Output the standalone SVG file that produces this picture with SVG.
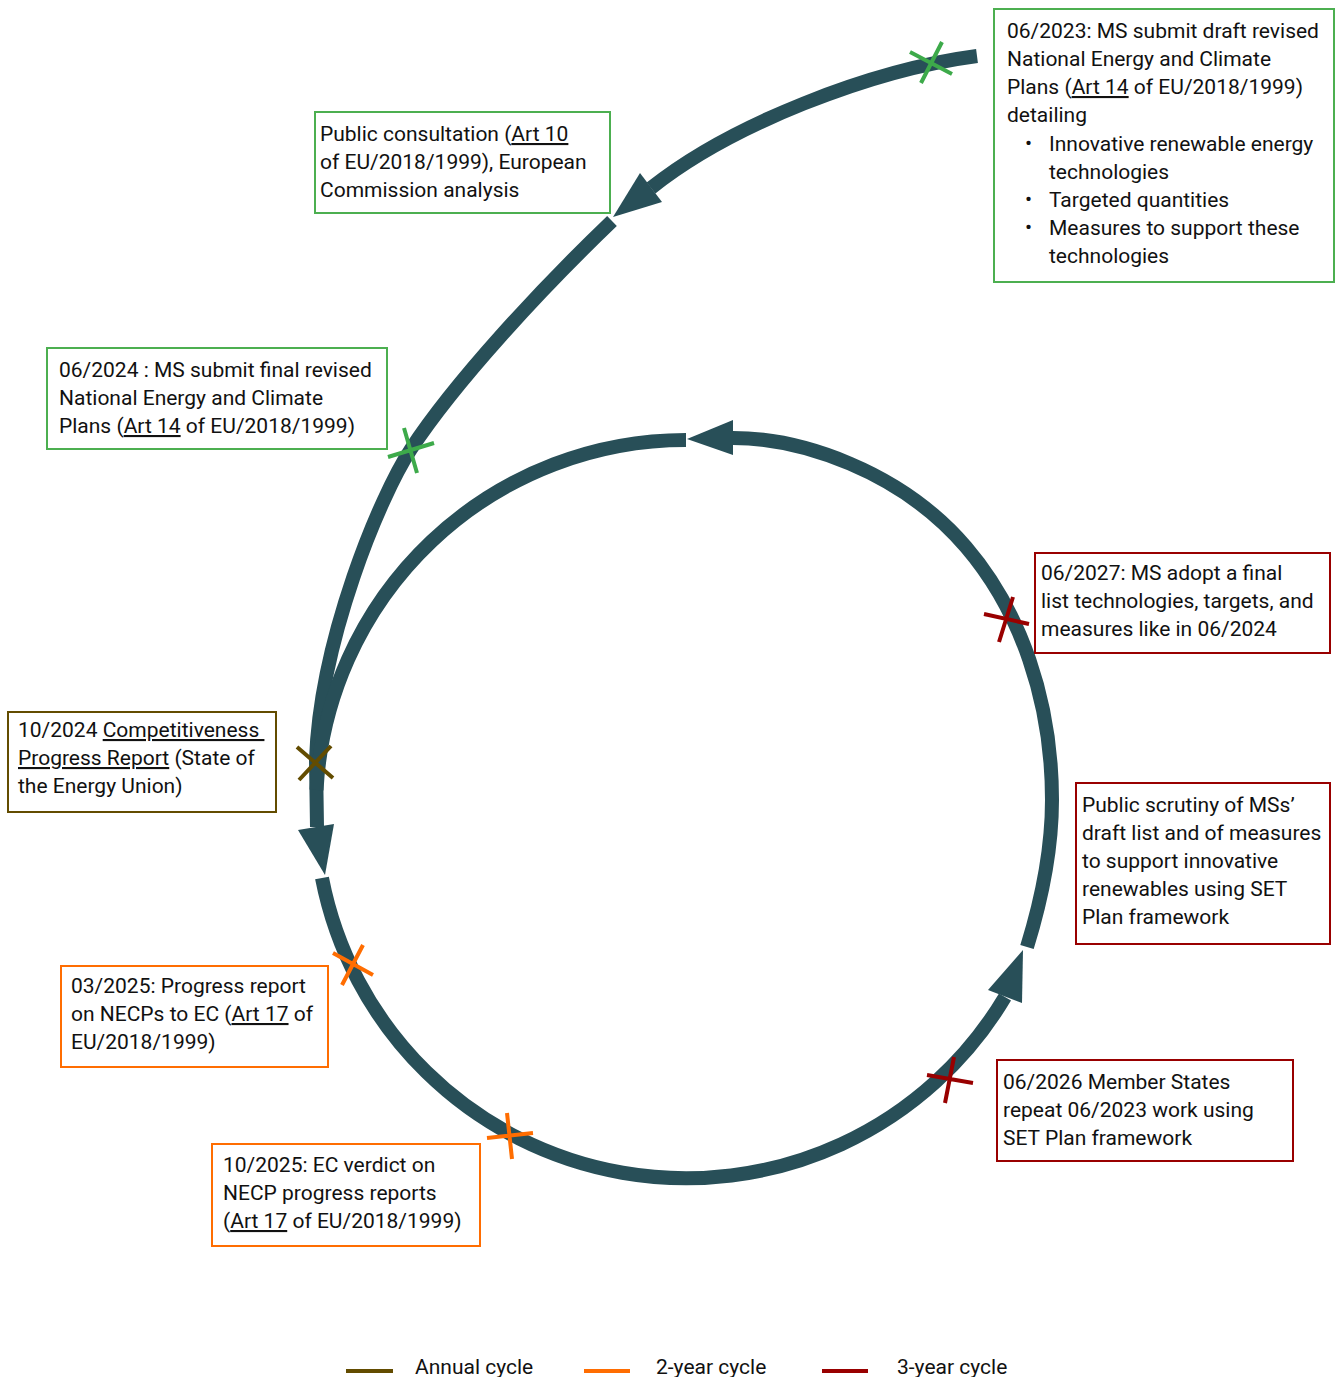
<svg xmlns="http://www.w3.org/2000/svg" width="1338" height="1377" viewBox="0 0 1338 1377">
<style>
.t{font-family:Roboto,"Liberation Sans",sans-serif;font-size:21px;fill:#111}
.u{text-decoration:underline}
.flow{fill:none;stroke:#284f58;stroke-width:14}
.head{fill:#284f58}
.box{fill:#fff;stroke-width:2}
.g{stroke:#4caf50}
.br{stroke:#634c00}
.rd{stroke:#990000}
.or{stroke:#ff6d01}
.x{stroke-width:4;fill:none}
.xg{stroke:#3daa4a}
</style>
<rect width="1338" height="1377" fill="#fff"/>
<g id="connectors">
<path class="flow" d="M977,56 C870,70 730,125 651,188"/>
<polygon class="head" points="613,217 640,173 662,202"/>
<path class="flow" d="M612,221 C540,290 455,382 411,449 C380,496 320,640 316,760 L317,827"/>
<polygon class="head" points="325,875 298,830 334,824"/>
<path class="flow" d="M686,440 A370,370 0 0 0 316.5,790"/>
<path class="flow" d="M322,878 A371,371 0 0 0 1005,997"/>
<polygon class="head" points="1023,950 988,990 1022,1003"/>
<path class="flow" d="M1027,947 C1040,905 1052,850 1052,800 C1052,700 1020,610 966,547 C900,470 800,438 733,438"/>
<polygon class="head" points="687,439 733,420 733,455"/>
</g>
<g id="markers">
<path class="x xg" d="M910,52 L952,74 M942,42 L921,83"/>
<path class="x xg" d="M388,457 L434,443 M404,428 L417,473"/>
<path class="x br" d="M297,747 L333,778 M331,746 L299,780"/>
<path class="x rd" d="M984,614 L1029,624 M1013,597 L999,642"/>
<path class="x rd" d="M927,1075 L973,1083 M954,1057 L945,1103"/>
<path class="x or" d="M333,953 L373,975 M363,945 L342,985"/>
<path class="x or" d="M487,1138 L533,1133 M507,1113 L512,1159"/>
</g>
<g id="n-2023">
<rect class="box g" x="994" y="9" width="340" height="273"/>
<text class="t" x="1007" y="38">06/2023: MS submit draft revised</text>
<text class="t" x="1007" y="66">National Energy and Climate</text>
<text class="t" x="1007" y="94">Plans (<tspan class="u">Art 14</tspan> of EU/2018/1999)</text>
<text class="t" x="1007" y="122">detailing</text>
<text class="t" x="1025" y="150" font-size="15">•</text>
<text class="t" x="1049" y="151">Innovative renewable energy</text>
<text class="t" x="1049" y="179">technologies</text>
<text class="t" x="1025" y="206" font-size="15">•</text>
<text class="t" x="1049" y="207">Targeted quantities</text>
<text class="t" x="1025" y="234" font-size="15">•</text>
<text class="t" x="1049" y="235">Measures to support these</text>
<text class="t" x="1049" y="263">technologies</text>
</g>
<g id="n-consult">
<rect class="box g" x="315" y="112" width="295" height="101"/>
<text class="t" x="320" y="141">Public consultation (<tspan class="u">Art 10</tspan></text>
<text class="t" x="320" y="169">of EU/2018/1999), European</text>
<text class="t" x="320" y="197">Commission analysis</text>
</g>
<g id="n-2024">
<rect class="box g" x="47" y="348" width="340" height="101"/>
<text class="t" x="59" y="377">06/2024 : MS submit final revised</text>
<text class="t" x="59" y="405">National Energy and Climate</text>
<text class="t" x="59" y="433">Plans (<tspan class="u">Art 14</tspan> of EU/2018/1999)</text>
</g>
<g id="n-102024">
<rect class="box br" x="8" y="712" width="268" height="100"/>
<text class="t" x="18" y="737">10/2024 <tspan class="u">Competitiveness&#160;</tspan></text>
<text class="t" x="18" y="765"><tspan class="u">Progress Report</tspan> (State of</text>
<text class="t" x="18" y="793">the Energy Union)</text>
</g>
<g id="n-2027">
<rect class="box rd" x="1035" y="553" width="295" height="100"/>
<text class="t" x="1041" y="580">06/2027: MS adopt a final</text>
<text class="t" x="1041" y="608">list technologies, targets, and</text>
<text class="t" x="1041" y="636">measures like in 06/2024</text>
</g>
<g id="n-scrutiny">
<rect class="box rd" x="1076" y="783" width="254" height="161"/>
<text class="t" x="1082" y="812">Public scrutiny of MSs’</text>
<text class="t" x="1082" y="840">draft list and of measures</text>
<text class="t" x="1082" y="868">to support innovative</text>
<text class="t" x="1082" y="896">renewables using SET</text>
<text class="t" x="1082" y="924">Plan framework</text>
</g>
<g id="n-2026">
<rect class="box rd" x="997" y="1060" width="296" height="101"/>
<text class="t" x="1003" y="1089">06/2026 Member States</text>
<text class="t" x="1003" y="1117">repeat 06/2023 work using</text>
<text class="t" x="1003" y="1145">SET Plan framework</text>
</g>
<g id="n-032025">
<rect class="box or" x="61" y="966" width="267" height="101"/>
<text class="t" x="71" y="993">03/2025: Progress report</text>
<text class="t" x="71" y="1021">on NECPs to EC (<tspan class="u">Art 17</tspan> of</text>
<text class="t" x="71" y="1049">EU/2018/1999)</text>
</g>
<g id="n-102025">
<rect class="box or" x="212" y="1144" width="268" height="102"/>
<text class="t" x="223" y="1172">10/2025: EC verdict on</text>
<text class="t" x="223" y="1200">NECP progress reports</text>
<text class="t" x="223" y="1228">(<tspan class="u">Art 17</tspan> of EU/2018/1999)</text>
</g>
<g id="legend">
<line x1="346" y1="1371" x2="393" y2="1371" stroke="#634c00" stroke-width="4"/>
<text class="t" x="415" y="1374">Annual cycle</text>
<line x1="584" y1="1371" x2="630" y2="1371" stroke="#ff6d01" stroke-width="4"/>
<text class="t" x="656" y="1374">2-year cycle</text>
<line x1="822" y1="1371" x2="868" y2="1371" stroke="#990000" stroke-width="4"/>
<text class="t" x="897" y="1374">3-year cycle</text>
</g>
</svg>
